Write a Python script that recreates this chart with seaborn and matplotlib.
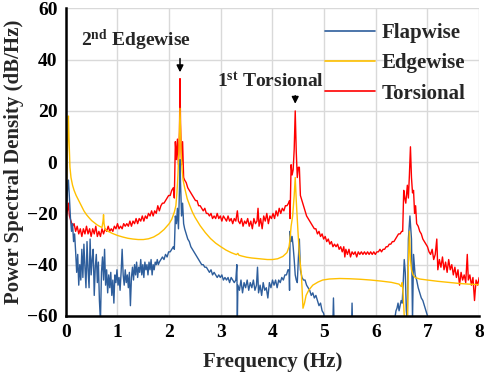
import numpy as np
import pandas as pd
import matplotlib
matplotlib.use("Agg")
import matplotlib.pyplot as plt
import seaborn as sns

# Torsional (red) spectrum
tors_freq = [0.00, 0.03, 0.05, 0.07, 0.10, 0.13, 0.16, 0.19, 0.22, 0.25, 0.28, 0.31, 0.34, 0.37, 0.40,
             0.43, 0.46, 0.49, 0.52, 0.55, 0.58, 0.61, 0.64, 0.67, 0.70, 0.73, 0.76, 0.79, 0.82, 0.85,
             0.88, 0.91, 0.94, 0.97, 1.00, 1.03, 1.06, 1.09, 1.12, 1.15, 1.18, 1.21, 1.24, 1.27, 1.30,
             1.33, 1.36, 1.39, 1.42, 1.45, 1.48, 1.51, 1.54, 1.57, 1.60, 1.63, 1.66, 1.69, 1.72, 1.75,
             1.78, 1.81, 1.84, 1.87, 1.90, 1.93, 1.96, 1.99, 2.02, 2.05, 2.08, 2.10, 2.12, 2.14, 2.16,
             2.18, 2.20, 2.21, 2.22, 2.24, 2.26, 2.28, 2.30, 2.33, 2.36, 2.39, 2.42, 2.45, 2.48, 2.51,
             2.54, 2.57, 2.60, 2.63, 2.66, 2.69, 2.72, 2.75, 2.78, 2.81, 2.84, 2.87, 2.90, 2.93, 2.96,
             2.99, 3.02, 3.05, 3.08, 3.11, 3.14, 3.17, 3.20, 3.23, 3.26, 3.29, 3.32, 3.34, 3.37, 3.40,
             3.43, 3.46, 3.49, 3.52, 3.55, 3.58, 3.61, 3.64, 3.67, 3.70, 3.72, 3.74, 3.77, 3.80, 3.83,
             3.86, 3.89, 3.92, 3.95, 3.98, 4.01, 4.04, 4.07, 4.10, 4.13, 4.16, 4.19, 4.22, 4.25, 4.28,
             4.31, 4.33, 4.34, 4.36, 4.38, 4.40, 4.42, 4.44, 4.46, 4.48, 4.50, 4.52, 4.54, 4.57, 4.60,
             4.63, 4.66, 4.69, 4.72, 4.75, 4.78, 4.81, 4.84, 4.87, 4.90, 4.93, 4.96, 4.99, 5.02, 5.05,
             5.08, 5.11, 5.14, 5.17, 5.20, 5.23, 5.26, 5.29, 5.32, 5.35, 5.38, 5.40, 5.42, 5.45, 5.48,
             5.51, 5.54, 5.57, 5.60, 5.63, 5.66, 5.69, 5.72, 5.75, 5.78, 5.81, 5.84, 5.87, 5.90, 5.93,
             5.96, 5.99, 6.02, 6.05, 6.08, 6.11, 6.14, 6.17, 6.20, 6.23, 6.26, 6.29, 6.32, 6.35, 6.38,
             6.41, 6.44, 6.47, 6.50, 6.52, 6.54, 6.56, 6.58, 6.61, 6.63, 6.65, 6.67, 6.69, 6.71, 6.73,
             6.75, 6.77, 6.79, 6.82, 6.85, 6.88, 6.91, 6.94, 6.97, 7.00, 7.03, 7.06, 7.09, 7.12, 7.15,
             7.18, 7.20, 7.23, 7.26, 7.29, 7.32, 7.35, 7.38, 7.41, 7.44, 7.47, 7.50, 7.53, 7.56, 7.59,
             7.62, 7.65, 7.68, 7.71, 7.74, 7.77, 7.79, 7.82, 7.85, 7.88, 7.91, 7.94, 7.97, 8.00]
tors_db = [-22, -19, -16, -21, -23, -25, -24, -27, -25, -28, -26, -29, -26, -28, -25,
           -28, -26, -29, -26, -28, -25, -29, -27, -29, -26, -28, -26, -27, -25, -27,
           -26, -27, -25, -26, -24, -26, -25, -26, -24, -25, -24, -25, -23, -25, -23,
           -24, -22, -24, -22, -23, -21, -23, -21, -22, -20, -21, -19, -21, -19, -20,
           -17, -19, -17, -16, -16, -15, -14, -13, -13, -11, -10, -14, 8, 1, 9,
           -1, 12, 32.6, 15, -1, 8, -6, -7, -8, -10, -11, -12, -13, -14, -15,
           -15, -17, -17, -18, -19, -18, -20, -20, -21, -20, -22, -21, -22, -20, -22,
           -21, -23, -21, -22, -23, -21, -23, -22, -24, -22, -23, -19, -23, -24, -22,
           -25, -23, -24, -22, -25, -23, -26, -22, -24, -23, -18, -25, -22, -26, -21,
           -23, -20, -24, -21, -22, -20, -22, -19, -21, -18, -20, -18, -19, -17, -17,
           -16, -15, -22, -1, -5, -3, 5, 20, 4, -6, -2, -2, -13, -15, -17,
           -19, -21, -22, -23, -24, -25, -26, -26, -28, -27, -29, -28, -30, -29, -31,
           -30, -32, -31, -33, -32, -33, -32, -34, -33, -35, -33, -37, -34, -36, -34,
           -37, -35, -36, -35, -37, -35, -36, -35, -36, -35, -36, -35, -36, -35, -36,
           -35, -36, -35, -35, -34, -35, -34, -34, -33, -33, -32, -32, -31, -31, -30,
           -29, -28, -28, -27, -27, -11, -14, -16, -9, -14, -5, 6, -6, -12, -11,
           -20, -17, -24, -25, -27, -28, -30, -31, -32, -33, -35, -36, -34, -38, -36,
           -30, -42, -38, -41, -37, -42, -39, -43, -38, -42, -40, -44, -41, -45, -42,
           -48, -43, -46, -44, -47, -36, -46, -44, -48, -45, -54, -46, -48, -45]

# Edgewise (orange)
edge_freq = [0.00, 0.02, 0.04, 0.05, 0.06, 0.08, 0.10, 0.13, 0.16, 0.20, 0.25, 0.30, 0.35, 0.40, 0.45,
             0.50, 0.55, 0.60, 0.65, 0.70, 0.72, 0.73, 0.74, 0.76, 0.80, 0.90, 1.00, 1.10, 1.20, 1.30,
             1.40, 1.50, 1.60, 1.70, 1.80, 1.90, 2.00, 2.05, 2.10, 2.13, 2.15, 2.17, 2.19, 2.21, 2.23,
             2.25, 2.27, 2.30, 2.35, 2.40, 2.45, 2.50, 2.60, 2.70, 2.80, 2.90, 3.00, 3.10, 3.20, 3.30,
             3.33, 3.35, 3.40, 3.50, 3.60, 3.70, 3.80, 3.90, 4.00, 4.10, 4.20, 4.28, 4.32, 4.34, 4.36,
             4.39, 4.42, 4.44, 4.46, 4.49, 4.52, 4.56, 4.59, 4.62, 4.65, 4.70, 4.78, 4.88, 4.97, 5.10,
             5.30, 5.50, 5.70, 5.90, 6.10, 6.30, 6.45, 6.49, 6.51, 6.53, 6.55, 6.57, 6.59, 6.61, 6.63,
             6.65, 6.67, 6.69, 6.72, 6.76, 6.85, 7.00, 7.20, 7.40, 7.60, 7.80, 8.00]
edge_db = [-20, -5, 12, 18, 10, -2, -6, -9, -11, -13, -15, -17, -19, -20.5, -21.7,
           -22.8, -23.6, -24.4, -25, -25.5, -23, -20.5, -24, -26.2, -26.8, -27.8, -28.6, -29.2, -29.7, -30,
           -30.2, -30.2, -29.9, -29.2, -28, -26.3, -24, -22.3, -19.5, -17, -12, -5, 5, 21, 5,
           -3, -7, -10, -14.3, -17, -19.5, -21.5, -24.8, -27.5, -29.8, -31.6, -33, -34.3, -35.3, -36.1,
           -35.6, -36.3, -36.6, -37.1, -37.4, -37.6, -37.8, -38, -38, -37.7, -36.8, -35.3, -33, -30, -25,
           -21, -13, -6, -15, -26, -36, -44, -57, -55, -52, -50, -48, -46.8, -46, -45.6,
           -45.4, -45.5, -45.7, -46, -46.4, -46.9, -47.6, -48.5, -47, -52, -60, -65, -62, -64, -40,
           -27, -38, -42, -44, -45, -45.6, -46, -46.5, -46.9, -47.3, -47.6, -47.8]

# Flapwise (blue)
flap_freq = [0.00, 0.02, 0.04, 0.05, 0.07, 0.09, 0.11, 0.13, 0.15, 0.17, 0.19, 0.21, 0.23, 0.25, 0.27,
             0.29, 0.31, 0.33, 0.35, 0.37, 0.39, 0.41, 0.43, 0.45, 0.47, 0.49, 0.51, 0.53, 0.55, 0.57,
             0.59, 0.61, 0.63, 0.65, 0.67, 0.69, 0.71, 0.73, 0.75, 0.77, 0.79, 0.81, 0.83, 0.85, 0.87,
             0.89, 0.91, 0.93, 0.95, 0.97, 0.99, 1.01, 1.03, 1.05, 1.07, 1.09, 1.11, 1.13, 1.15, 1.17,
             1.19, 1.21, 1.23, 1.25, 1.27, 1.29, 1.31, 1.33, 1.35, 1.37, 1.39, 1.41, 1.43, 1.45, 1.47,
             1.49, 1.51, 1.53, 1.55, 1.57, 1.59, 1.61, 1.63, 1.65, 1.67, 1.69, 1.71, 1.73, 1.75, 1.77,
             1.79, 1.81, 1.84, 1.87, 1.90, 1.93, 1.96, 1.99, 2.02, 2.05, 2.08, 2.10, 2.12, 2.14, 2.16,
             2.18, 2.20, 2.21, 2.22, 2.24, 2.26, 2.28, 2.30, 2.33, 2.36, 2.39, 2.42, 2.45, 2.48, 2.51,
             2.54, 2.57, 2.60, 2.63, 2.66, 2.69, 2.72, 2.75, 2.78, 2.81, 2.84, 2.87, 2.90, 2.93, 2.96,
             2.99, 3.02, 3.05, 3.08, 3.11, 3.14, 3.17, 3.20, 3.23, 3.26, 3.29, 3.31, 3.32, 3.33, 3.36,
             3.39, 3.42, 3.45, 3.48, 3.51, 3.54, 3.57, 3.60, 3.63, 3.66, 3.69, 3.71, 3.73, 3.76, 3.79,
             3.82, 3.85, 3.88, 3.91, 3.94, 3.97, 4.00, 4.03, 4.06, 4.09, 4.12, 4.15, 4.18, 4.21, 4.24,
             4.27, 4.30, 4.32, 4.33, 4.34, 4.36, 4.38, 4.40, 4.42, 4.44, 4.46, 4.48, 4.50, 4.52, 4.54,
             4.57, 4.60, 4.63, 4.66, 4.69, 4.72, 4.75, 4.78, 4.81, 4.84, 4.87, 4.90, 4.93, 4.96, 4.99,
             5.02, 5.05, 5.10, 5.16, 5.18, 5.20, 5.30, 5.40, 5.52, 5.54, 5.56, 5.70, 6.00, 6.20, 6.30,
             6.36, 6.39, 6.41, 6.43, 6.45, 6.47, 6.49, 6.51, 6.53, 6.55, 6.57, 6.59, 6.61, 6.63, 6.66,
             6.69, 6.71, 6.73, 6.76, 6.79, 6.82, 6.85, 6.88, 6.91, 6.94, 6.97, 7.00, 7.05, 7.20, 8.00]
flap_db = [-21, -15, -8, -7, -14, -22, -27, -24, -31, -28, -35, -43, -36, -48, -40,
           -46, -34, -45, -32, -41, -49, -31, -42, -49, -30, -44, -38, -34, -52, -41,
           -36, -47, -39, -54, -62, -43, -37, -46, -34, -48, -42, -51, -44, -49, -43,
           -52, -46, -55, -44, -47, -42, -48, -45, -50, -43, -34, -44, -48, -42, -47,
           -44, -49, -43, -56, -45, -41, -46, -40, -44, -39, -45, -41, -43, -38, -44,
           -40, -45, -39, -42, -40, -44, -39, -42, -38, -44, -40, -42, -39, -40, -38,
           -40, -39, -38, -37, -38, -36, -37, -35, -35, -34, -33, -34, -21, -24, -18,
           -26, -10, 1, -8, -21, -16, -24, -26, -28, -30, -31, -33, -34, -35, -36,
           -37, -38, -39, -40, -40, -41, -41, -42, -43, -42, -44, -43, -44, -45, -44,
           -45, -44, -46, -45, -46, -45, -47, -45, -46, -47, -46, -40, -62, -48, -50,
           -46, -51, -47, -49, -46, -50, -47, -49, -46, -50, -48, -41, -51, -48, -52,
           -47, -50, -49, -53, -47, -49, -46, -48, -46, -49, -46, -47, -45, -46, -44,
           -44, -42, -42, -50, -27, -31, -29, -33, -38, -44, -46, -47, -38, -30, -42,
           -45, -46, -46, -48, -49, -50, -52, -51, -53, -52, -54, -56, -55, -58, -59,
           -62, -66, -68, -70, -53, -70, -72, -72, -72, -55, -72, -72, -72, -70, -66,
           -62, -58, -57, -55, -58, -56, -54, -55, -47, -38, -43, -58, -62, -30, -21,
           -30, -62, -36, -44, -46, -49, -51, -53, -54, -56, -58, -60, -64, -70, -72]

df_flap = pd.DataFrame({"Frequency": flap_freq, "PSD": flap_db})
df_edge = pd.DataFrame({"Frequency": edge_freq, "PSD": edge_db})
df_tors = pd.DataFrame({"Frequency": tors_freq, "PSD": tors_db})

sns.set_theme(style="whitegrid")
plt.rcParams["font.family"] = ["Liberation Serif", "DejaVu Serif"]
plt.rcParams["font.weight"] = "bold"
plt.rcParams["mathtext.fontset"] = "custom"
plt.rcParams["mathtext.rm"] = "Liberation Serif:bold"
plt.rcParams["mathtext.default"] = "rm"

c_flap = "#2E5E9C"
c_edge = "#FFC000"
c_tors = "#FF0000"

fig = plt.figure(figsize=(4.84, 3.82), dpi=100)
ax = fig.add_axes([0.136, 0.173, 0.854, 0.805])

# draw order: red at the back, orange on top
sns.lineplot(data=df_tors, x="Frequency", y="PSD", color=c_tors, lw=1.0, estimator=None, ax=ax)
sns.lineplot(data=df_flap, x="Frequency", y="PSD", color=c_flap, lw=1.0, estimator=None, ax=ax)
sns.lineplot(data=df_edge, x="Frequency", y="PSD", color=c_edge, lw=1.0, estimator=None, ax=ax)

ax.set_xlim(0, 8)
ax.set_ylim(-60, 60)
ax.set_xticks(range(0, 9))
ax.set_yticks(range(-60, 61, 20))
ax.set_yticklabels([f"{v}".replace("-", "\u2212") for v in range(-60, 61, 20)])

ax.grid(True, color="#d9d9d9", lw=1.0)
for s in ["top", "right"]:
    ax.spines[s].set_visible(False)
for s in ["left", "bottom"]:
    ax.spines[s].set_color("black")
    ax.spines[s].set_linewidth(1.8)
ax.tick_params(direction="in", length=5, width=1.5, colors="black", labelsize=14, pad=6)
for lab in ax.get_xticklabels() + ax.get_yticklabels():
    lab.set_fontweight("bold")

ax.set_xlabel("Frequency (Hz)", fontsize=15, fontweight="bold", labelpad=8)
ax.set_ylabel("Power Spectral Density (dB/Hz)", fontsize=15, fontweight="bold", labelpad=2)

# peak annotations
ax.annotate("", xy=(2.21, 34), xytext=(2.21, 41.5),
            arrowprops=dict(arrowstyle="-|>", color="black", lw=1.1, mutation_scale=10))
ax.text(1.35, 47.5, "2$^{nd}$ Edgewise", ha="center", va="center", fontsize=14, fontweight="bold")
ax.annotate("", xy=(4.44, 21.7), xytext=(4.44, 27),
            arrowprops=dict(arrowstyle="-|>", color="black", lw=1.1, mutation_scale=10))
ax.text(3.97, 31.6, "1$^{st}$ Torsional", ha="center", va="center", fontsize=14, fontweight="bold")

handles = [plt.Line2D([], [], color=c_flap, lw=1.2),
           plt.Line2D([], [], color=c_edge, lw=1.2),
           plt.Line2D([], [], color=c_tors, lw=1.2)]
leg = ax.legend(handles, ["Flapwise", "Edgewise", "Torsional"], loc="upper left",
                bbox_to_anchor=(0.627, 0.953), frameon=False, handlelength=2.4,
                handletextpad=0.3, labelspacing=0.5, borderpad=0, borderaxespad=0,
                prop={"family": "Liberation Serif", "weight": "bold", "size": 15})
for t in leg.get_texts():
    t.set_fontweight("bold")

fig.savefig("out.png", dpi=100)
